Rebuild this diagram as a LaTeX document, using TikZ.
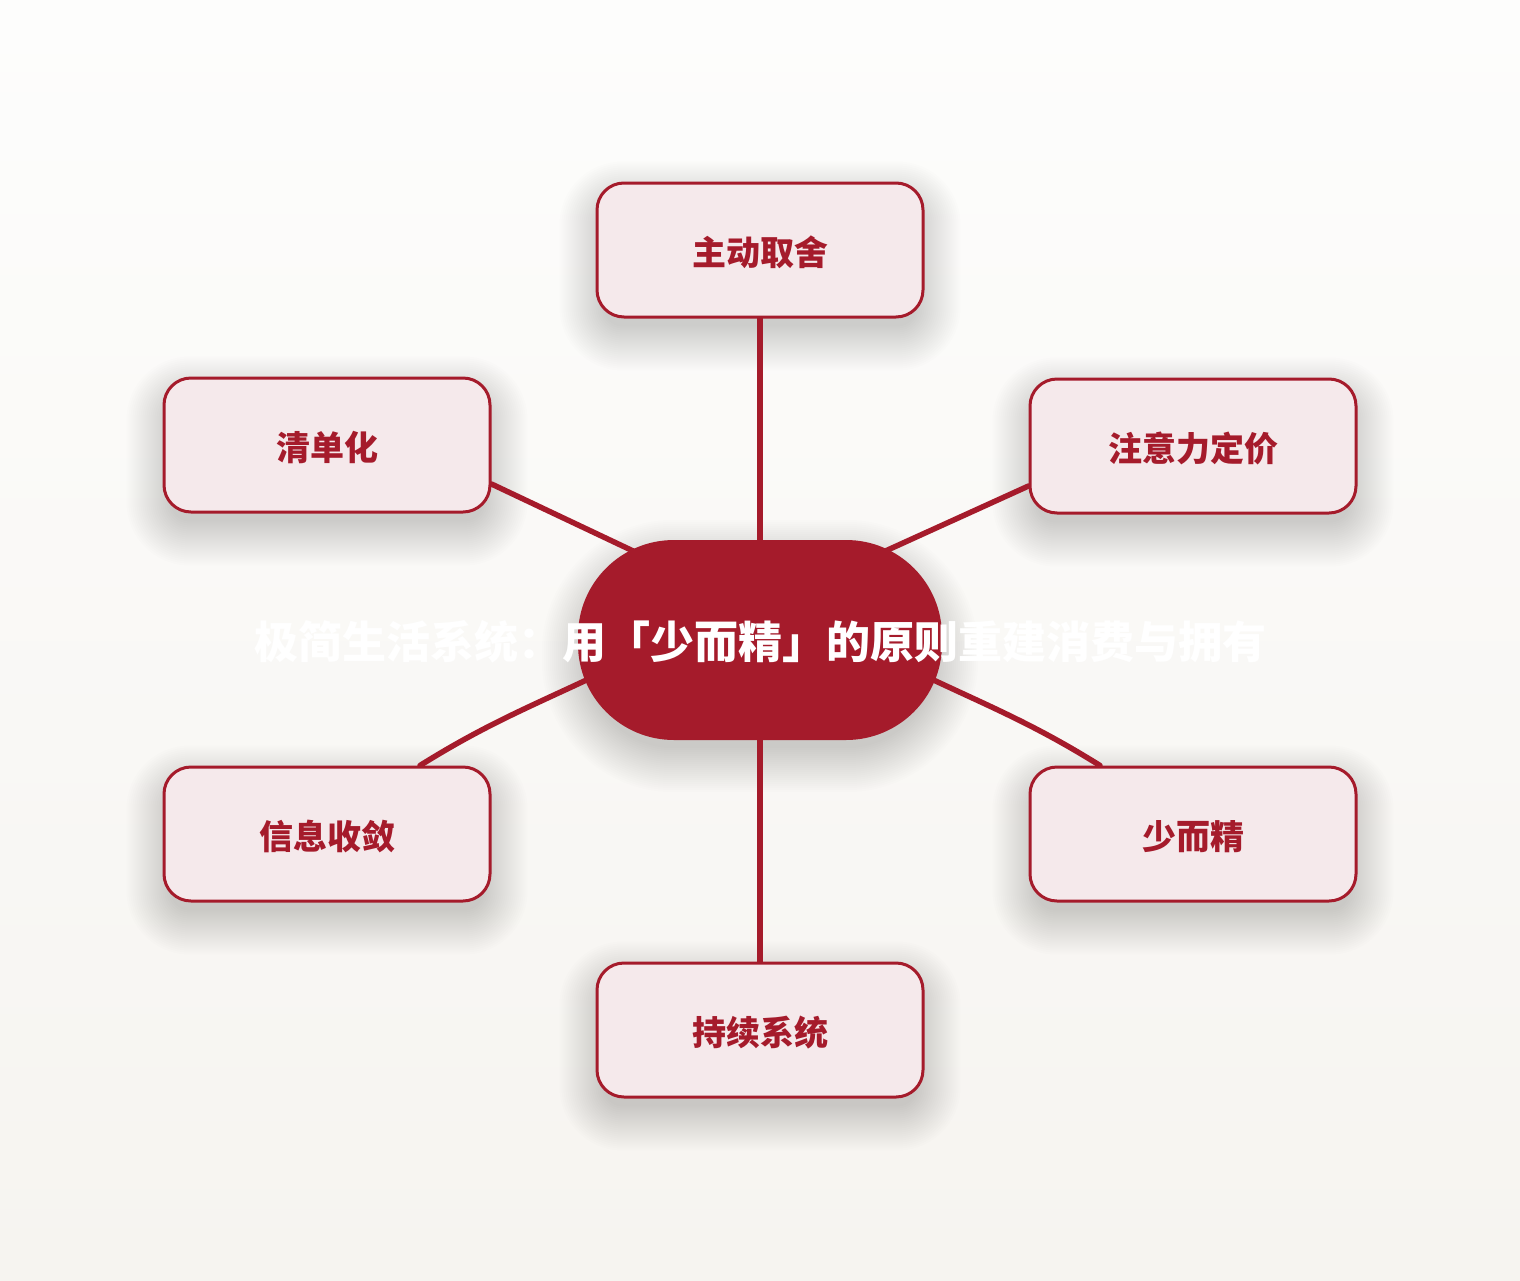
\documentclass[tikz,border=0pt]{standalone}
\usepackage{fontspec}
\newfontfamily\cjk{Noto Sans CJK SC}
\pgfdeclarelayer{bg}
\pgfdeclarelayer{shadow}
\pgfdeclarelayer{lines}
\pgfsetlayers{bg,shadow,lines,main}
\definecolor{crim}{HTML}{A51B2B}
\definecolor{boxfill}{HTML}{F5E9EB}
\definecolor{bgtop}{HTML}{FDFDFC}
\definecolor{bgbot}{HTML}{F6F4F0}
\begin{document}
\begin{tikzpicture}[x=1pt,y=1pt,
  leaf/.style={draw=crim, line width=3pt, fill=boxfill, rounded corners=27pt,
    minimum width=326pt, minimum height=134pt, inner sep=0pt,
    text height=35pt, text depth=4pt,
    font=\cjk\bfseries\fontsize{34}{40}\selectfont, text=crim},
  hub/.style={fill=crim, rounded corners=96pt, minimum width=364pt, minimum height=200pt,
    inner sep=0pt},
  hubtext/.style={text=white, font=\cjk\bfseries\fontsize{44}{52}\selectfont, inner sep=0pt},
  link/.style={draw=crim, line width=5.5pt, line cap=round},
  softshade/.style={fill=black, opacity=0.0068}]
\useasboundingbox (0,0) rectangle (1520,-1280);
\begin{pgfonlayer}{bg}
  \fill[top color=bgtop, bottom color=bgbot] (0,0) rectangle (1520,-1280);
\end{pgfonlayer}

\node[hub] (c) at (760,-640) {};
\node[hubtext] (ctext) at (760,-642) {极简生活系统：用「少而精」的原则重建消费与拥有};

\node[leaf] (t)  at (760,-250)  {主动取舍};
\node[leaf] (lu) at (327,-445)  {清单化};
\node[leaf] (ru) at (1193,-446) {注意力定价};
\node[leaf] (ll) at (327,-834)  {信息收敛};
\node[leaf] (rl) at (1193,-834) {少而精};
\node[leaf] (b)  at (760,-1030) {持续系统};

\begin{pgfonlayer}{shadow}
  \foreach \n/\rad in {t/27,lu/27,ru/27,ll/27,rl/27,b/27,c/96}{
    \foreach \r in {-8,-6,...,36}{
      \fill[softshade, rounded corners=\rad+\r]
        ([shift={(-\r,-\r-16)}]\n.south west) rectangle ([shift={(\r,\r-16)}]\n.north east);
    }
  }
\end{pgfonlayer}

\begin{pgfonlayer}{lines}
  \draw[link] (t.south) -- (c.north);
  \draw[link] (c.south) -- (b.north);
  \draw[link] ([yshift=-39pt]lu.east) -- ([yshift=29pt]c.center);
  \draw[link] ([yshift=-40pt]ru.west) -- ([yshift=32pt]c.center);
  \draw[link] ([xshift=93pt]ll.north) to[out=32,in=206] ([xshift=-140pt,yshift=-24pt]c.center);
  \draw[link] ([xshift=-93pt]rl.north) to[out=148,in=-26] ([xshift=140pt,yshift=-24pt]c.center);
\end{pgfonlayer}
\end{tikzpicture}
\end{document}
